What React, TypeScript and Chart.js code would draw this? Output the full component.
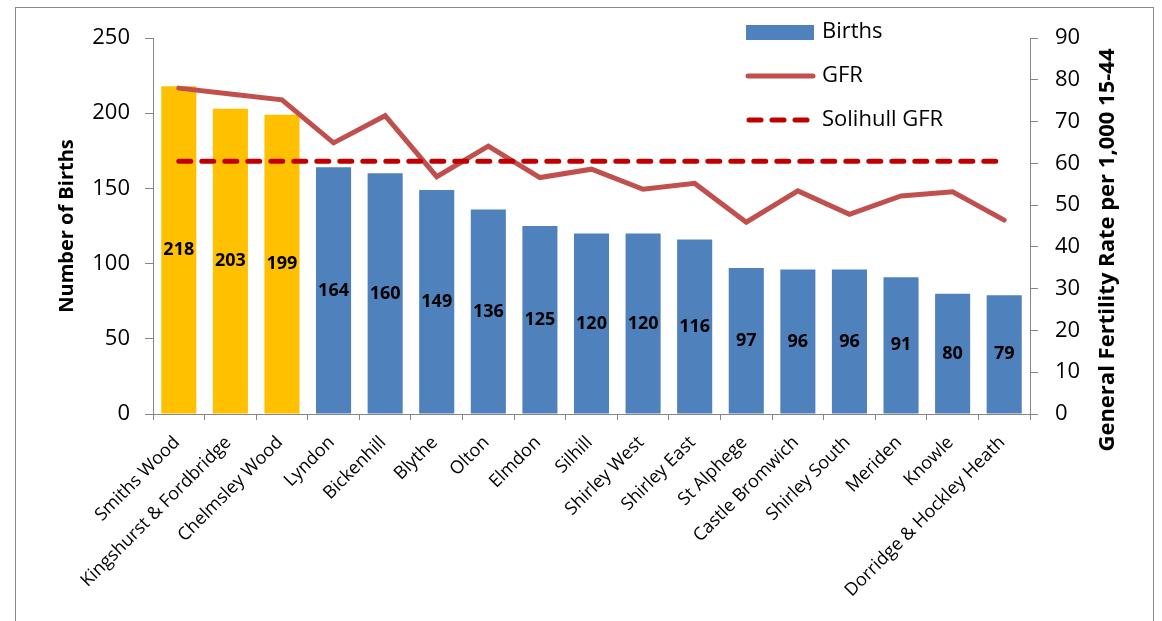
import React, { useEffect, useRef } from 'react';
import { Chart, registerables } from 'chart.js';

Chart.register(...registerables);

const categories = [
  'Smiths Wood', 'Kingshurst & Fordbridge', 'Chelmsley Wood', 'Lyndon', 'Bickenhill',
  'Blythe', 'Olton', 'Elmdon', 'Silhill', 'Shirley West', 'Shirley East', 'St Alphege',
  'Castle Bromwich', 'Shirley South', 'Meriden', 'Knowle', 'Dorridge & Hockley Heath',
];
const births = [218, 203, 199, 164, 160, 149, 136, 125, 120, 120, 116, 97, 96, 96, 91, 80, 79];
const gfr = [78.0, 76.6, 75.2, 64.9, 71.4, 56.8, 64.1, 56.6, 58.6, 53.8, 55.2, 45.9, 53.4, 47.8, 52.2, 53.2, 46.4];
const solihullGfr = [60.5, 60.5, 60.5, 60.5, 60.5, 60.5, 60.5, 60.5, 60.5, 60.5, 60.5, 60.5, 60.5, 60.5, 60.5, 60.5, 60.5];
const highlighted = ['Smiths Wood', 'Kingshurst & Fordbridge', 'Chelmsley Wood'];
const legendLabels = ['Births', 'GFR', 'Solihull GFR'];
const leftTitle = 'Number of Births';
const rightTitle = 'General Fertility Rate per 1,000 15-44';

const FONT = '"Open Sans", "Liberation Sans", sans-serif';
const BLUE = '#4F81BD';
const YELLOW = '#FFC000';
const RED = '#C0504D';
const DARKRED = '#C00000';
const AXIS = '#868686';

const barLabelPlugin = {
  id: 'barLabels',
  afterDatasetDraw(chart: any, args: any) {
    if (args.index !== 0) return;
    const ctx = chart.ctx;
    const meta = chart.getDatasetMeta(0);
    ctx.save();
    ctx.font = `bold 18px ${FONT}`;
    ctx.fillStyle = '#000';
    ctx.textAlign = 'center';
    ctx.textBaseline = 'middle';
    meta.data.forEach((bar: any, i: number) => {
      const y = (bar.y + bar.base) / 2;
      ctx.fillText(String(births[i]), bar.x, y);
    });
    ctx.restore();
  },
};

const rightTitlePlugin = {
  id: 'rightTitle',
  afterDraw(chart: any) {
    const ctx = chart.ctx;
    const scale = chart.scales.y1;
    ctx.save();
    ctx.translate(scale.right - 54, (scale.top + scale.bottom) / 2 + 24);
    ctx.rotate(-Math.PI / 2);
    ctx.font = `bold 22px ${FONT}`;
    ctx.fillStyle = '#000';
    ctx.textAlign = 'center';
    ctx.textBaseline = 'middle';
    ctx.fillText(rightTitle, 0, 0);
    ctx.restore();
  },
};

const customLegendPlugin = {
  id: 'customLegend',
  afterDraw(chart: any) {
    const ctx = chart.ctx;
    const x0 = 746;
    const x1 = 814;
    const tx = 822;
    const rows = [32, 76, 120];
    ctx.save();
    ctx.fillStyle = BLUE;
    ctx.fillRect(x0, rows[0] - 7, x1 - x0, 15);
    ctx.strokeStyle = RED;
    ctx.lineWidth = 5;
    ctx.lineCap = 'round';
    ctx.beginPath();
    ctx.moveTo(x0 + 2, rows[1]);
    ctx.lineTo(x1 - 1, rows[1]);
    ctx.stroke();
    ctx.strokeStyle = DARKRED;
    ctx.setLineDash([12, 11]);
    ctx.beginPath();
    ctx.moveTo(x0 + 3, rows[2]);
    ctx.lineTo(x1, rows[2]);
    ctx.stroke();
    ctx.setLineDash([]);
    ctx.fillStyle = '#000';
    ctx.font = `22px ${FONT}`;
    ctx.textAlign = 'left';
    ctx.textBaseline = 'middle';
    legendLabels.forEach((t, i) => ctx.fillText(t, tx, rows[i]));
    ctx.restore();
  },
};

export default function App() {
  const ref = useRef<HTMLCanvasElement | null>(null);

  useEffect(() => {
    if (!ref.current) return;
    const chart = new Chart(ref.current, {
      type: 'bar',
      data: {
        labels: categories,
        datasets: [
          {
            type: 'bar',
            label: legendLabels[0],
            data: births,
            yAxisID: 'y',
            backgroundColor: categories.map((c) => (highlighted.includes(c) ? YELLOW : BLUE)),
            borderWidth: 0,
            barPercentage: 1,
            categoryPercentage: 0.68,
            order: 3,
          },
          {
            type: 'line',
            label: legendLabels[1],
            data: gfr,
            yAxisID: 'y1',
            borderColor: RED,
            backgroundColor: RED,
            borderWidth: 5,
            pointRadius: 0,
            tension: 0,
            borderCapStyle: 'round',
            borderJoinStyle: 'miter',
            order: 2,
          },
          {
            type: 'line',
            label: legendLabels[2],
            data: solihullGfr,
            yAxisID: 'y1',
            borderColor: DARKRED,
            backgroundColor: DARKRED,
            borderWidth: 5,
            borderDash: [12, 11],
            borderCapStyle: 'round',
            pointRadius: 0,
            order: 1,
          },
        ],
      },
      options: {
        responsive: false,
        animation: false,
        layout: { padding: { top: 38, left: 0, right: 0, bottom: 0 } },
        plugins: {
          legend: { display: false },
          tooltip: { enabled: false },
        },
        scales: {
          x: {
            grid: {
              display: true,
              drawOnChartArea: false,
              drawTicks: true,
              tickLength: 6,
              color: AXIS,
              offset: true,
            },
            border: { display: true, color: AXIS, width: 1 },
            ticks: {
              color: '#000',
              font: { family: FONT, size: 18 },
              minRotation: 45,
              maxRotation: 45,
              autoSkip: false,
              padding: 12,
              labelOffset: -2,
            },
            afterFit: (scale: any) => {
              scale.height = 207;
            },
          },
          y: {
            position: 'left',
            min: 0,
            max: 250,
            ticks: {
              stepSize: 50,
              color: '#000',
              font: { family: FONT, size: 22 },
              padding: 15,
            },
            grid: {
              display: true,
              drawOnChartArea: false,
              drawTicks: true,
              tickLength: 8,
              color: AXIS,
            },
            border: { display: true, color: AXIS, width: 1 },
            title: {
              display: true,
              text: leftTitle,
              color: '#000',
              font: { family: FONT, size: 20, weight: 'bold' },
              padding: { top: 55, bottom: 0 },
            },
            afterFit: (scale: any) => {
              scale.width = 153;
            },
          },
          y1: {
            position: 'right',
            min: 0,
            max: 90,
            ticks: {
              stepSize: 10,
              color: '#000',
              font: { family: FONT, size: 22 },
              padding: 17,
            },
            grid: {
              display: true,
              drawOnChartArea: false,
              drawTicks: true,
              tickLength: 8,
              color: AXIS,
            },
            border: { display: true, color: AXIS, width: 1 },
            title: { display: false },
            afterFit: (scale: any) => {
              scale.width = 132;
            },
          },
        },
      },
      plugins: [barLabelPlugin, customLegendPlugin, rightTitlePlugin],
    });
    return () => chart.destroy();
  }, []);

  return (
    <div style={{ position: 'fixed', left: 0, top: 0, width: 1162, height: 621, background: '#fff', overflow: 'hidden' }}>
      <div
        style={{
          position: 'absolute',
          left: 15,
          top: 7,
          width: 1139,
          height: 640,
          border: '1.5px solid #8a8a8a',
          boxSizing: 'border-box',
        }}
      />
      <canvas ref={ref} width={1162} height={621} style={{ position: 'absolute', left: 0, top: 0, width: 1162, height: 621 }} />
    </div>
  );
}
